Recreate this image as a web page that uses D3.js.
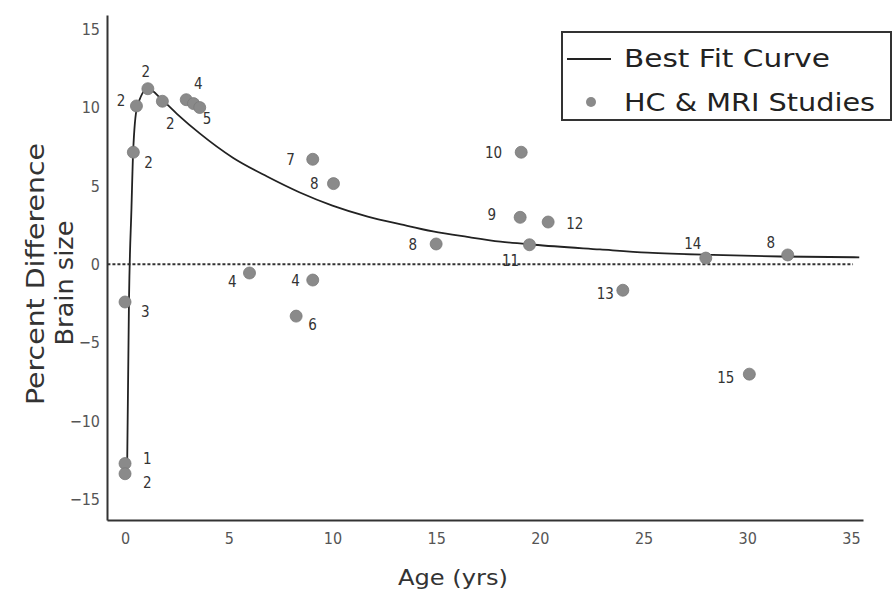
<!DOCTYPE html>
<html>
<head>
<meta charset="utf-8">
<script src="https://cdn.jsdelivr.net/npm/d3@7"></script>
<style>
  body { margin: 0; background: #fff; }
  svg { display: block; font-family: "DejaVu Sans", sans-serif; }
</style>
</head>
<body>
<div id="chart"></div>
<script>
// study points
const ages  = [0, 0, 0, 0.4, 0.55, 1.1, 1.8, 2.95, 3.3, 3.6, 9.05, 10.05, 19.1, 19.05, 20.4, 19.5, 15.0, 6.0, 9.05, 8.25, 24.0, 28.0, 31.95, 30.1];
const diffs = [-12.7, -13.35, -2.4, 7.15, 10.1, 11.2, 10.4, 10.5, 10.25, 10.0, 6.7, 5.15, 7.15, 3.0, 2.7, 1.25, 1.3, -0.55, -1.0, -3.3, -1.65, 0.4, 0.6, -7.0];
const labels = ["1", "2", "3", "2", "2", "2", "2", "4", "", "5", "7", "8", "10", "9", "12", "11", "8", "4", "4", "6", "13", "14", "8", "15"];

// label placement next to each dot (pixels) and anchor
const labelDx = [18, 18, 16, 11, -11, -2, 8, 12, 0, 3, -18, -15, -19, -24, 18, -19, -19, -13, -13, 12, -9, -13, -17, -15];
const labelDy = [0, 14, 15, 16, 0, -12, 28, -11, 0, 16, 6, 5, 6, 3, 7, 21, 6, 14, 6, 14, 9, -9, -7, 9];
const labelAnchor = ["start", "start", "start", "start", "end", "middle", "middle", "middle", "", "start", "end", "end", "end", "end", "start", "middle", "end", "end", "end", "start", "end", "middle", "middle", "end"];

// best fit curve
const curveAge  = [0.1, 0.19, 0.31, 0.39, 0.58, 1.1, 1.78, 2.5, 3.6, 5.2, 6.85, 8.4, 10.0, 11.7, 13.3, 14.85, 16.5, 18.1, 19.7, 22.9, 25.2, 28.35, 31.6, 35.4];
const curveDiff = [-13.1, -2.3, 3.6, 7.15, 10.0, 11.2, 10.5, 9.6, 8.35, 6.8, 5.6, 4.6, 3.75, 3.05, 2.55, 2.1, 1.75, 1.45, 1.25, 0.95, 0.75, 0.6, 0.5, 0.45];

const xTicks = [0, 5, 10, 15, 20, 25, 30, 35];
const yTicks = [-15, -10, -5, 0, 5, 10, 15];

const W = 896, H = 593;
const svg = d3.select("#chart").append("svg").attr("width", W).attr("height", H);

const x = d3.scaleLinear().domain([-0.87, 35.58]).range([107, 863]);
const y = d3.scaleLinear().domain([-16.3, 15.9]).range([520, 15]);

// axes (no tick marks, just labels)
const xAxis = svg.append("g")
  .attr("transform", `translate(0,${y(-16.3)})`)
  .call(d3.axisBottom(x).tickValues(xTicks).tickSize(0).tickPadding(13));
const yAxis = svg.append("g")
  .attr("transform", `translate(${x(-0.87)},0)`)
  .call(d3.axisLeft(y).tickValues(yTicks).tickSize(0).tickPadding(7).tickFormat(d => d < 0 ? "\u2212" + Math.abs(d) : d));
[xAxis, yAxis].forEach(a => {
  a.select(".domain").attr("stroke", "#333").attr("stroke-width", 2);
  a.selectAll("text").attr("font-size", 16).attr("fill", "#555")
    .style("font-family", "'DejaVu Sans Condensed', 'DejaVu Sans', sans-serif");
});

// dotted zero line
svg.append("line")
  .attr("x1", x(-0.85)).attr("x2", x(35.1))
  .attr("y1", y(0)).attr("y2", y(0))
  .attr("stroke", "#333").attr("stroke-width", 2)
  .attr("stroke-dasharray", "3,2");

// best fit curve
const curvePts = curveAge.map((a, i) => [a, curveDiff[i]]);
svg.append("path")
  .datum(curvePts)
  .attr("fill", "none")
  .attr("stroke", "#222")
  .attr("stroke-width", 1.8)
  .attr("d", d3.line().x(d => x(d[0])).y(d => y(d[1])).curve(d3.curveMonotoneX));

// study dots
const pts = ages.map((a, i) => ({
  age: a, diff: diffs[i], label: labels[i],
  dx: labelDx[i], dy: labelDy[i], anchor: labelAnchor[i]
}));
svg.append("g").selectAll("circle")
  .data(pts)
  .join("circle")
  .attr("cx", d => x(d.age))
  .attr("cy", d => y(d.diff))
  .attr("r", 6)
  .attr("fill", "#8a8a8a")
  .attr("stroke", "#7a7a7a")
  .attr("stroke-width", 0.8);

// point labels
svg.append("g").selectAll("text")
  .data(pts.filter(d => d.label))
  .join("text")
  .attr("x", d => x(d.age) + d.dx)
  .attr("y", d => y(d.diff) + d.dy)
  .attr("text-anchor", d => d.anchor)
  .attr("font-size", 15)
  .attr("fill", "#333")
  .style("font-family", "'DejaVu Sans Condensed', 'DejaVu Sans', sans-serif")
  .text(d => d.label);

// axis titles
svg.append("text")
  .attr("x", 453).attr("y", 585)
  .attr("text-anchor", "middle")
  .attr("font-size", 22).attr("fill", "#333")
  .attr("textLength", 110).attr("lengthAdjust", "spacingAndGlyphs")
  .text("Age (yrs)");
svg.append("text")
  .attr("transform", "translate(44,274) rotate(-90)")
  .attr("text-anchor", "middle")
  .attr("font-size", 25).attr("fill", "#333")
  .attr("textLength", 262).attr("lengthAdjust", "spacingAndGlyphs")
  .text("Percent Difference");
svg.append("text")
  .attr("transform", "translate(73,283) rotate(-90)")
  .attr("text-anchor", "middle")
  .attr("font-size", 25).attr("fill", "#333")
  .attr("textLength", 125).attr("lengthAdjust", "spacingAndGlyphs")
  .text("Brain size");

// legend
const lg = svg.append("g");
lg.append("rect")
  .attr("x", 562).attr("y", 32).attr("width", 329).attr("height", 88)
  .attr("fill", "#fff").attr("stroke", "#333").attr("stroke-width", 2);
lg.append("line")
  .attr("x1", 567).attr("x2", 611).attr("y1", 59).attr("y2", 59)
  .attr("stroke", "#222").attr("stroke-width", 1.8);
lg.append("circle")
  .attr("cx", 591).attr("cy", 102).attr("r", 5)
  .attr("fill", "#8a8a8a");
lg.append("text")
  .attr("x", 624).attr("y", 67)
  .attr("font-size", 24).attr("fill", "#222")
  .attr("textLength", 206).attr("lengthAdjust", "spacingAndGlyphs")
  .text("Best Fit Curve");
lg.append("text")
  .attr("x", 624).attr("y", 111)
  .attr("font-size", 24).attr("fill", "#222")
  .attr("textLength", 251).attr("lengthAdjust", "spacingAndGlyphs")
  .text("HC & MRI Studies");
</script>
</body>
</html>
